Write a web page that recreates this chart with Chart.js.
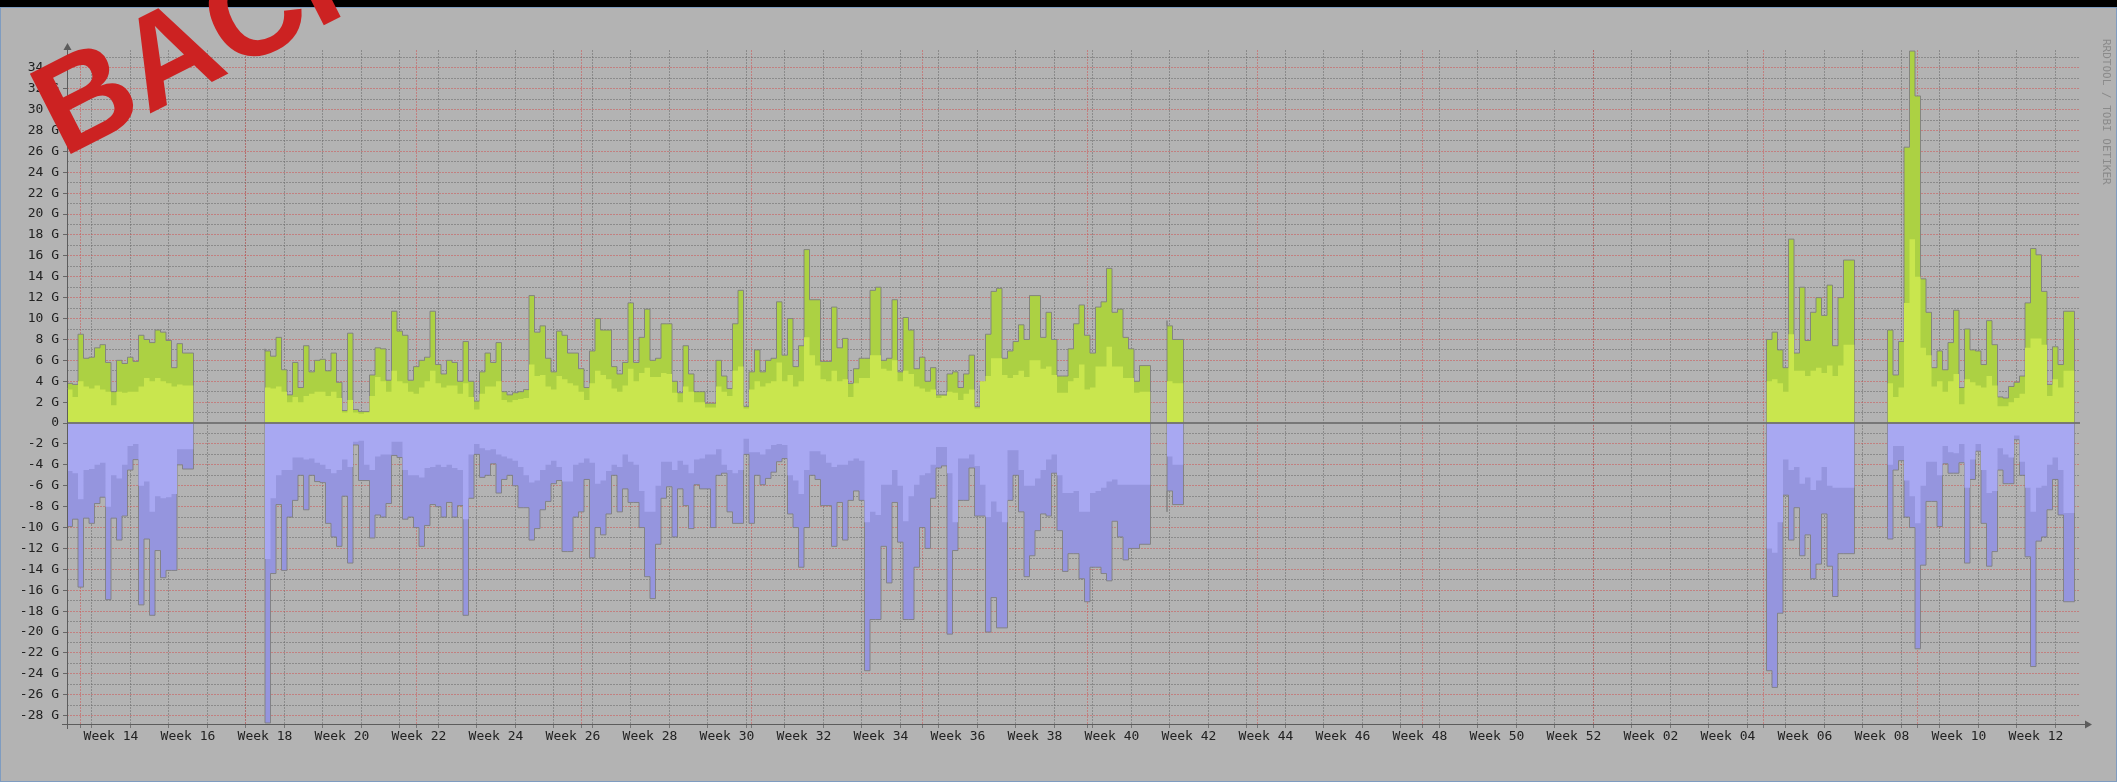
<!DOCTYPE html>
<html>
<head>
<meta charset="utf-8">
<script src="https://cdn.jsdelivr.net/npm/chart.js@4.4.1/dist/chart.umd.min.js"></script>
<style>
  html, body { margin: 0; padding: 0; background: #b3b3b3; }
  #wrap { position: relative; width: 2117px; height: 782px; overflow: hidden; background: #b3b3b3; }
  #graph { position: absolute; left: 0; top: 0; }
  #topbar { position: absolute; left: 0; top: 0; width: 2117px; height: 7px; background: #000; }
  #frame { position: absolute; left: 0; top: 7px; width: 2117px; height: 775px; box-sizing: border-box;
           border: 1px solid #7f9cc0; pointer-events: none; }
  #credit { position: absolute; left: 2100px; top: 39px; writing-mode: vertical-rl;
            font: 11px "DejaVu Sans Mono", monospace; color: #8a8a8a; }
  #stamp { position: absolute; left: 63px; top: 47px; font: bold 131px "Liberation Sans", Arial, sans-serif;
           line-height: 1; color: #cc2222; transform-origin: 0 111px; transform: rotate(-27deg);
           white-space: nowrap; }
</style>
</head>
<body>
<div id="wrap">
  <canvas id="graph" width="2117" height="782"></canvas>
  <div id="topbar"></div>
  <div id="frame"></div>
  <div id="credit">RRDTOOL / TOBI OETIKER</div>
  <div id="stamp">BACKUP</div>
</div>
<script>
// Daily traffic in G, one sub-array per run of data.
// Day 0 = Monday of week 14, each run starts at the day in segStart.
const segStart = [-4.5, 31.5, 195.5, 304.5, 326.5];

// incoming, maximum per day
const inMax = [
  [4.2, 3.8, 3.7, 8.5, 6.2, 6.3, 7.2, 7.5, 5.8, 3.0, 6.0, 5.7, 6.3, 5.9, 8.4, 8.0, 7.7, 8.9, 8.7, 7.9, 5.3, 7.6, 6.7],
  [7.1, 6.9, 6.4, 8.2, 5.1, 2.7, 5.8, 3.4, 7.4, 4.9,
   6.0, 6.1, 5.0, 6.7, 3.9, 1.2, 8.6, 1.3, 1.1, 1.1,
   4.6, 7.2, 7.1, 4.1, 10.7, 8.8, 8.4, 4.1, 5.4, 6.0,
   6.3, 10.7, 5.6, 4.7, 6.0, 5.8, 4.0, 7.8, 4.0, 2.1,
   4.9, 6.7, 5.8, 7.7, 3.0, 2.7, 2.9, 3.0, 3.2, 12.2,
   8.7, 9.3, 6.2, 4.9, 8.8, 8.4, 6.7, 6.7, 5.2, 3.4,
   6.9, 10.0, 8.9, 8.9, 5.4, 4.7, 5.8, 11.5, 5.8, 8.2,
   10.9, 6.0, 6.2, 9.5, 9.5, 4.0, 2.9, 7.4, 4.7, 3.0,
   3.0, 1.9, 1.9, 6.0, 4.5, 3.3, 9.5, 12.7, 1.6, 4.9,
   7.0, 4.9, 6.0, 6.2, 11.6, 6.5, 10.0, 5.4, 7.4, 16.6,
   11.8, 11.8, 5.9, 5.9, 11.1, 7.2, 8.1, 3.8, 5.2, 6.2,
   6.2, 12.7, 13.0, 6.0, 6.2, 11.8, 4.9, 10.1, 8.9, 5.2,
   6.3, 4.0, 5.3, 2.7, 2.7, 4.7, 4.9, 3.4, 4.7, 6.5,
   1.6, 3.6, 8.5, 12.6, 12.9, 6.2, 6.9, 7.8, 9.4, 8.0,
   12.2, 12.2, 8.2, 10.6, 8.0, 4.5, 4.5, 7.1, 9.5, 11.3,
   8.4, 6.7, 11.1, 11.6, 14.8, 10.6, 10.9, 8.2, 7.1, 4.0,
   5.5],
  [9.8, 9.3, 8.0],
  [7.3, 8.0, 8.7, 7.0, 5.3, 17.6, 6.7, 13.0, 7.9, 10.6, 12.0, 10.3, 13.2, 7.4, 12.0, 15.6],
  [7.0, 8.9, 4.6, 7.8, 26.4, 35.6, 31.3, 13.8, 10.6, 5.3,
   6.9, 5.1, 7.7, 10.8, 3.4, 9.0, 7.0, 6.9, 5.6, 9.8,
   7.5, 2.5, 2.4, 3.5, 3.9, 4.5, 11.5, 16.7, 16.1, 12.6,
   3.7, 7.3, 5.6, 10.7]
];

// incoming, average per day
const inAvg = [
  [3.0, 3.2, 2.5, 4.0, 3.5, 3.3, 3.6, 3.2, 3.0, 1.7, 3.0, 2.9, 3.0, 3.0, 3.5, 4.3, 4.0, 4.3, 4.0, 3.8, 3.5, 3.7, 3.6],
  [3.5, 3.4, 3.3, 3.5, 3.0, 2.0, 2.5, 2.0, 2.6, 2.8,
   3.0, 3.0, 2.6, 3.0, 2.4, 1.0, 2.2, 1.0, 0.9, 1.0,
   2.6, 4.4, 4.0, 3.0, 5.0, 4.0, 3.8, 3.0, 2.8, 3.4,
   4.0, 5.0, 3.8, 3.4, 3.6, 3.6, 2.8, 3.8, 2.5, 1.3,
   2.8, 3.5, 3.5, 4.0, 2.2, 2.0, 2.2, 2.3, 2.4, 5.6,
   4.5, 4.6, 3.5, 3.2, 4.5, 4.2, 3.8, 3.6, 3.0, 2.2,
   3.8, 5.0, 4.6, 4.2, 3.3, 3.0, 3.6, 5.2, 4.0, 4.8,
   5.3, 4.4, 4.4, 4.8, 4.7, 2.9, 2.0, 3.5, 3.0, 2.0,
   2.0, 1.5, 1.5, 3.5, 3.0, 2.6, 5.0, 5.4, 1.4, 3.2,
   4.0, 3.5, 3.8, 4.0, 5.8, 4.0, 4.6, 3.5, 4.0, 8.2,
   6.5, 5.5, 4.2, 4.0, 5.0, 4.0, 4.2, 2.5, 3.8, 4.3,
   4.3, 6.5, 6.5, 5.2, 5.0, 6.0, 4.0, 5.0, 4.7, 3.5,
   3.3, 3.0, 3.2, 2.4, 2.6, 3.0, 2.9, 2.2, 2.8, 3.2,
   1.4, 4.0, 4.5, 6.2, 6.2, 4.6, 4.3, 4.6, 5.0, 4.4,
   6.0, 6.0, 5.2, 5.4, 4.6, 2.9, 2.9, 4.0, 4.3, 5.6,
   3.2, 3.4, 5.4, 5.4, 7.3, 5.4, 5.4, 4.3, 4.3, 2.9,
   3.0],
  [3.8, 4.0, 3.8],
  [4.3, 4.0, 4.2, 3.8, 3.0, 8.5, 5.0, 5.0, 4.5, 5.0, 5.3, 4.8, 5.5, 4.5, 5.5, 7.5],
  [3.2, 3.8, 2.5, 3.4, 11.5, 17.6, 14.0, 7.2, 6.5, 3.5,
   4.0, 3.0, 4.0, 4.7, 1.8, 4.2, 3.9, 3.6, 3.4, 4.5,
   3.6, 1.6, 1.6, 2.0, 2.4, 2.8, 7.2, 8.1, 8.1, 7.5,
   2.6, 4.2, 3.4, 5.0]
];

// outgoing, maximum per day (drawn below zero)
const outMax = [
  [-8.5, -9.9, -9.2, -15.7, -9.1, -9.6, -7.7, -7.1, -16.9, -9.1, -11.2, -8.9, -4.5, -3.5, -17.4, -11.1, -18.4, -12.2, -14.8, -14.1, -14.1, -4.0, -4.4],
  [-26.2, -28.7, -14.4, -7.8, -14.1, -9.0, -7.4, -5.0, -8.3, -5.0,
   -5.6, -5.7, -9.6, -10.9, -11.8, -7.0, -13.4, -2.1, -5.5, -5.5,
   -11.0, -8.8, -9.0, -7.7, -3.1, -3.3, -9.2, -9.0, -10.0, -11.8,
   -9.8, -7.8, -8.0, -9.0, -7.6, -9.0, -7.9, -18.4, -7.2, -3.0,
   -5.2, -5.0, -3.9, -6.7, -5.4, -5.0, -6.0, -8.1, -8.1, -11.2,
   -10.1, -8.3, -7.5, -5.8, -5.5, -12.3, -12.3, -9.0, -8.5, -5.4,
   -12.9, -10.0, -10.7, -8.7, -5.0, -8.5, -6.3, -7.6, -7.6, -10.0,
   -14.7, -16.8, -11.6, -7.2, -6.1, -10.9, -6.3, -7.9, -10.1, -5.9,
   -6.3, -6.3, -10.0, -5.0, -4.8, -8.5, -9.6, -9.6, -3.0, -9.6,
   -5.0, -5.9, -5.3, -4.7, -3.7, -3.4, -8.7, -10.0, -13.8, -10.0,
   -5.0, -5.4, -7.9, -7.9, -11.8, -7.6, -11.2, -7.4, -6.5, -7.4,
   -23.7, -18.8, -18.8, -11.8, -15.3, -7.6, -11.4, -18.8, -18.8, -13.8,
   -10.0, -12.0, -7.2, -4.3, -4.1, -20.2, -12.2, -7.4, -7.4, -4.3,
   -8.9, -8.9, -20.0, -16.7, -19.6, -19.6, -7.4, -5.0, -8.5, -14.7,
   -12.7, -10.3, -8.7, -8.9, -4.8, -10.3, -14.2, -12.5, -12.5, -14.9,
   -17.1, -13.8, -13.8, -14.4, -15.1, -9.4, -10.9, -13.1, -12.0, -12.0,
   -11.6],
  [-8.5, -6.5, -7.8],
  [-15.0, -23.7, -25.3, -18.2, -6.9, -11.2, -8.1, -12.7, -10.7, -14.9, -13.5, -8.7, -13.7, -16.6, -12.5, -12.5],
  [-10.0, -11.1, -4.5, -3.6, -9.0, -10.0, -21.6, -13.6, -7.5, -7.5,
   -9.9, -3.9, -4.8, -4.8, -3.8, -13.4, -5.4, -2.7, -9.6, -13.7,
   -12.3, -4.5, -5.8, -5.8, -1.6, -5.0, -12.8, -23.3, -11.3, -10.9,
   -8.3, -5.4, -8.8, -17.1]
];

// outgoing, average per day (drawn below zero)
const outAvg = [
  [-4.8, -4.6, -4.8, -7.3, -4.5, -4.4, -4.0, -3.8, -8.0, -5.0, -5.3, -4.0, -2.2, -2.0, -6.0, -5.6, -8.5, -7.0, -7.2, -7.1, -6.8, -2.5, -2.5],
  [-13.0, -13.0, -7.2, -5.0, -4.5, -4.5, -3.3, -3.3, -3.5, -3.4,
   -3.8, -4.0, -4.4, -4.8, -4.5, -3.5, -4.2, -1.8, -1.7, -4.0,
   -4.5, -3.2, -3.0, -3.0, -1.8, -1.8, -4.5, -5.0, -5.0, -5.2,
   -4.3, -4.2, -4.0, -4.2, -4.0, -4.3, -4.5, -9.2, -3.0, -2.0,
   -2.4, -2.6, -2.5, -3.0, -3.2, -3.4, -3.6, -4.2, -5.0, -5.7,
   -5.5, -4.5, -4.0, -3.6, -4.2, -5.6, -5.6, -4.0, -3.8, -3.4,
   -3.8, -5.8, -5.5, -4.6, -4.0, -4.2, -3.0, -3.7, -4.0, -6.5,
   -8.5, -8.5, -6.0, -3.7, -3.7, -4.5, -3.6, -4.0, -4.8, -3.5,
   -3.4, -3.0, -3.0, -2.5, -4.0, -4.5, -4.8, -4.5, -1.5, -2.8,
   -2.8, -3.0, -2.5, -2.1, -2.0, -2.1, -5.0, -5.5, -6.8, -4.5,
   -2.7, -2.7, -3.0, -3.8, -4.2, -4.0, -4.0, -3.6, -3.4, -3.6,
   -9.5, -8.5, -8.8, -5.9, -5.9, -4.5, -6.0, -9.4, -7.0, -5.9,
   -5.0, -4.8, -4.0, -2.3, -2.3, -4.8, -9.5, -3.4, -3.4, -3.0,
   -4.1, -5.9, -9.0, -7.5, -8.5, -9.5, -2.6, -2.6, -4.5, -6.0,
   -6.0, -5.3, -4.5, -3.5, -3.0, -5.0, -6.7, -6.7, -6.5, -8.5,
   -8.5, -6.7, -6.5, -6.2, -5.6, -5.4, -5.9, -5.9, -5.9, -5.9,
   -5.9],
  [-3.4, -3.2, -4.0],
  [-11.0, -12.0, -12.4, -9.5, -3.5, -4.5, -4.2, -5.8, -5.2, -6.4, -5.5, -4.2, -6.0, -6.2, -6.2, -6.2],
  [-4.3, -4.0, -2.2, -2.2, -5.5, -7.0, -9.6, -6.0, -3.7, -3.7,
   -5.0, -2.2, -2.8, -2.9, -2.0, -6.2, -3.5, -2.0, -4.5, -6.7,
   -6.5, -2.4, -3.0, -3.3, -1.2, -3.7, -6.2, -8.5, -6.2, -6.0,
   -4.0, -3.3, -4.5, -8.6]
];

// x axis: one label every second week, centred in its week
const weekLabels = ['Week 14', 'Week 16', 'Week 18', 'Week 20', 'Week 22', 'Week 24', 'Week 26',
  'Week 28', 'Week 30', 'Week 32', 'Week 34', 'Week 36', 'Week 38', 'Week 40', 'Week 42',
  'Week 44', 'Week 46', 'Week 48', 'Week 50', 'Week 52', 'Week 02', 'Week 04', 'Week 06',
  'Week 08', 'Week 10', 'Week 12'];
// first day of each month (major vertical grid)
const monthStarts = [-2, 28, 59, 89, 120, 151, 181, 212, 242, 273, 304, 332];

const xMin = -4.5, xMax = 361.5;
const yMin = -28.8, yMax = 35.7;

const minorGrid = 'rgba(105,105,105,0.55)';
const majorGrid = 'rgba(205,85,85,0.55)';
const textColor = '#222';
const monoFont = { family: 'DejaVu Sans Mono', size: 13 };

// Turn the runs into stepped points, closing each run down to zero
function toPoints(runs) {
  const pts = [];
  runs.forEach((vals, s) => {
    const x0 = segStart[s];
    pts.push({ x: x0, y: 0 });
    vals.forEach((v, i) => pts.push({ x: x0 + i, y: v }));
    pts.push({ x: x0 + vals.length, y: vals[vals.length - 1] });
    pts.push({ x: x0 + vals.length, y: 0 });
    pts.push({ x: x0 + vals.length, y: null });
  });
  return pts;
}

function series(label, runs, fillColor, outline, order) {
  return {
    label: label,
    data: toPoints(runs),
    stepped: 'after',
    fill: 'origin',
    backgroundColor: fillColor,
    borderColor: outline ? 'rgba(128,128,128,0.9)' : 'rgba(0,0,0,0)',
    borderWidth: outline ? 1 : 0,
    pointRadius: 0,
    spanGaps: false,
    order: order
  };
}

// zero line, axis lines and arrow heads
const rrdFrame = {
  id: 'rrdFrame',
  afterDatasetsDraw(chart) {
    const { ctx, chartArea: a, scales: { y } } = chart;
    const y0 = Math.round(y.getPixelForValue(0));
    ctx.save();
    ctx.strokeStyle = 'rgba(112,112,112,0.9)';
    ctx.lineWidth = 2;
    ctx.beginPath();
    ctx.moveTo(a.left, y0);
    ctx.lineTo(a.right, y0);
    ctx.stroke();
    ctx.restore();
  },
  afterDraw(chart) {
    const { ctx, chartArea: a } = chart;
    const bx = Math.round(a.left) + 0.5;
    const by = Math.round(a.bottom) + 0.5;
    ctx.save();
    ctx.strokeStyle = '#5c5c5c';
    ctx.fillStyle = '#5c5c5c';
    ctx.lineWidth = 1;
    ctx.beginPath();
    ctx.moveTo(a.left - 5, by);
    ctx.lineTo(a.right + 6, by);
    ctx.moveTo(bx, a.bottom + 5);
    ctx.lineTo(bx, a.top - 2);
    ctx.stroke();
    ctx.beginPath();
    ctx.moveTo(a.right + 12, by);
    ctx.lineTo(a.right + 5, by - 4);
    ctx.lineTo(a.right + 5, by + 4);
    ctx.closePath();
    ctx.fill();
    ctx.beginPath();
    ctx.moveTo(bx, a.top - 7);
    ctx.lineTo(bx - 4, a.top);
    ctx.lineTo(bx + 4, a.top);
    ctx.closePath();
    ctx.fill();
    ctx.restore();
  }
};

Chart.defaults.font.family = 'DejaVu Sans Mono';

new Chart(document.getElementById('graph'), {
  type: 'line',
  data: {
    datasets: [
      series('in max', inMax, '#acd143', true, 2),
      series('in avg', inAvg, '#c9e64e', false, 1),
      series('out max', outMax, '#9595de', true, 2),
      series('out avg', outAvg, '#a8a8f2', false, 1)
    ]
  },
  options: {
    responsive: false,
    animation: false,
    events: [],
    layout: { padding: { top: 50, right: 37, left: 0, bottom: 0 } },
    plugins: {
      legend: { display: false },
      tooltip: { enabled: false }
    },
    scales: {
      x: {
        type: 'linear',
        min: xMin,
        max: xMax,
        z: 1,
        afterBuildTicks: (scale) => {
          const ticks = [];
          // one minor line per week
          for (let d = 0; d <= xMax; d += 7) ticks.push({ value: d, kind: 'week' });
          monthStarts.forEach(d => ticks.push({ value: d, kind: 'month' }));
          weekLabels.forEach((t, i) => ticks.push({ value: 3.5 + 14 * i, kind: 'label', text: t }));
          scale.ticks = ticks;
        },
        afterFit: (scale) => { scale.height = 58; },
        ticks: {
          autoSkip: false,
          maxRotation: 0,
          minRotation: 0,
          padding: 1,
          color: textColor,
          font: monoFont,
          callback: (v, i, ticks) => ticks[i].text || ''
        },
        grid: {
          color: (c) => c.tick && c.tick.kind === 'month' ? majorGrid
            : (c.tick && c.tick.kind === 'week' ? minorGrid : 'rgba(0,0,0,0)'),
          tickColor: (c) => c.tick && c.tick.kind === 'label' ? 'rgba(0,0,0,0)' : '#777',
          tickLength: 4,
          lineWidth: 1
        },
        border: { display: false, dash: [2, 1] }
      },
      y: {
        min: yMin,
        max: yMax,
        z: 1,
        ticks: {
          autoSkip: false,
          padding: 4,
          color: textColor,
          font: monoFont,
          callback: (v) => (v % 2 !== 0 ? '' : (v === 0 ? '0' : v + ' G'))
        },
        // one line per G, labels on the even ones
        afterBuildTicks: (scale) => {
          const ticks = [];
          for (let v = Math.ceil(yMin); v <= Math.floor(yMax); v++) ticks.push({ value: v });
          scale.ticks = ticks;
        },
        afterFit: (scale) => { scale.width = 67; },
        grid: {
          color: (c) => !c.tick || c.tick.value === 0 ? 'rgba(0,0,0,0)'
            : (c.tick.value % 2 === 0 ? majorGrid : minorGrid),
          tickColor: (c) => c.tick && c.tick.value % 2 === 0 ? '#666' : 'rgba(0,0,0,0)',
          tickLength: 4,
          lineWidth: 1
        },
        border: { display: false, dash: [2, 1] }
      }
    }
  },
  plugins: [rrdFrame]
});
</script>
</body>
</html>
